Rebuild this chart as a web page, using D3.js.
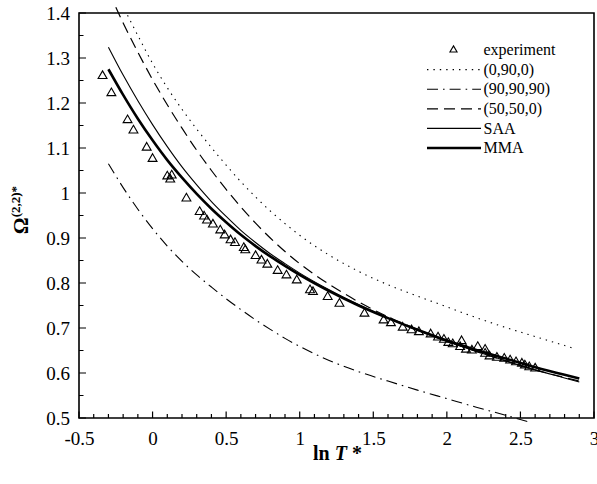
<!DOCTYPE html>
<html>
<head>
<meta charset="utf-8">
<script src="https://cdn.jsdelivr.net/npm/d3@7"></script>
<style>
body { margin: 0; background: #fff; }
svg { display: block; font-family: "Liberation Serif", "Times New Roman", serif; }
</style>
</head>
<body>
<div id="chart"></div>
<script>
// datos:
const expX = [-0.34, -0.28, -0.17, -0.13, -0.04, 0.0, 0.10, 0.13, 0.12, 0.23, 0.32, 0.35, 0.37, 0.41, 0.46, 0.49,
    0.53, 0.56, 0.62, 0.63, 0.70, 0.74, 0.78, 0.85, 0.91, 0.98, 1.07, 1.09, 1.19, 1.27, 1.44, 1.57, 1.62, 1.70,
    1.76, 1.81, 1.89, 1.94, 1.98, 2.01, 2.04, 2.10, 2.09, 2.13, 2.17, 2.21, 2.26, 2.26, 2.29, 2.34, 2.39, 2.43,
    2.47, 2.51, 2.53, 2.56, 2.60]
const expY = [1.260, 1.222, 1.162, 1.139, 1.101, 1.076, 1.037, 1.039, 1.030, 0.988, 0.958, 0.948, 0.939, 0.930, 0.917, 0.906,
    0.895, 0.889, 0.878, 0.873, 0.860, 0.850, 0.841, 0.827, 0.817, 0.806, 0.784, 0.780, 0.769, 0.754, 0.732, 0.717, 0.711, 0.701,
    0.695, 0.691, 0.686, 0.679, 0.674, 0.667, 0.664, 0.671, 0.658, 0.652, 0.650, 0.658, 0.652, 0.643, 0.637, 0.634, 0.632, 0.628,
    0.624, 0.621, 0.617, 0.613, 0.610]

const dotX = [-0.17, -0.1, 0.0, 0.1, 0.2, 0.3, 0.4, 0.5, 0.6, 0.7, 0.8, 0.9, 1.0, 1.2, 1.4, 1.6, 1.8, 2.0, 2.2, 2.4, 2.6, 2.8, 2.87]
const dotY = [1.395, 1.350, 1.288, 1.234, 1.186, 1.142, 1.101, 1.062, 1.025, 0.991, 0.960, 0.932, 0.906, 0.862, 0.826, 0.796,
    0.771, 0.747, 0.723, 0.701, 0.681, 0.661, 0.654]

const dashDotX = [-0.3, -0.2, -0.1, 0.0, 0.1, 0.2, 0.3, 0.4, 0.5, 0.6, 0.7, 0.8, 0.9, 1.0, 1.2, 1.4, 1.6, 1.8, 2.0, 2.2, 2.4, 2.55]
const dashDotY = [1.065, 1.012, 0.964, 0.921, 0.882, 0.848, 0.818, 0.791, 0.765, 0.741, 0.718, 0.697, 0.677, 0.659, 0.628,
    0.603, 0.582, 0.562, 0.543, 0.524, 0.506, 0.492]

const dashX = [-0.25, -0.2, -0.1, 0.0, 0.1, 0.2, 0.3, 0.4, 0.5, 0.6, 0.7, 0.8, 0.9, 1.0, 1.1, 1.2, 1.3, 1.4, 1.6, 1.8, 2.0,
    2.2, 2.4, 2.6, 2.8, 2.9]
const dashY = [1.413, 1.378, 1.313, 1.252, 1.196, 1.144, 1.095, 1.050, 1.008, 0.969, 0.933, 0.900, 0.870, 0.843, 0.819, 0.797,
    0.777, 0.758, 0.725, 0.697, 0.671, 0.648, 0.627, 0.607, 0.590, 0.582]

const saaX = [-0.3, -0.2, -0.1, 0.0, 0.1, 0.2, 0.3, 0.4, 0.5, 0.6, 0.7, 0.8, 0.9, 1.0, 1.2, 1.4, 1.6, 1.8, 2.0, 2.2, 2.4, 2.6, 2.8, 2.9]
const saaY = [1.324, 1.262, 1.205, 1.152, 1.103, 1.058, 1.018, 0.981, 0.948, 0.917, 0.890, 0.865, 0.843, 0.822, 0.785, 0.752,
    0.722, 0.695, 0.670, 0.648, 0.627, 0.607, 0.589, 0.580]

const mmaX = [-0.3, -0.2, -0.1, 0.0, 0.1, 0.2, 0.3, 0.4, 0.5, 0.6, 0.7, 0.8, 0.9, 1.0, 1.2, 1.4, 1.6, 1.8, 2.0, 2.2, 2.4, 2.6, 2.8, 2.9]
const mmaY = [1.275, 1.218, 1.165, 1.117, 1.073, 1.034, 0.998, 0.965, 0.935, 0.907, 0.882, 0.859, 0.838, 0.818, 0.782, 0.750,
    0.722, 0.696, 0.672, 0.651, 0.632, 0.613, 0.596, 0.588]

const legendLabels = ["experiment", "(0,90,0)", "(90,90,90)", "(50,50,0)", "SAA", "MMA"]

const xTicks = [-0.5, 0, 0.5, 1, 1.5, 2, 2.5, 3]
const xTickLabels = ["-0.5", "0", "0.5", "1", "1.5", "2", "2.5", "3"]
const yTicks = [0.5, 0.6, 0.7, 0.8, 0.9, 1, 1.1, 1.2, 1.3, 1.4]
const yTickLabels = ["0.5", "0.6", "0.7", "0.8", "0.9", "1", "1.1", "1.2", "1.3", "1.4"]

// Constantes:
const width = 597
const height = 484
const margins = {
    top: 13,
    left: 79,
    right: 3,
    bottom: 66
}
const eWidth = width - margins.left - margins.right
const eHeight = height - margins.top - margins.bottom

// grupos:
let svg = d3.select('div#chart').append('svg').attr('width', width).attr('height', height)
let axisGroup = svg.append('g').attr('id', 'axisGroup')
let elementGroup = svg.append('g').attr('id', 'elementGroup')
    .attr('transform', `translate(${margins.left}, ${margins.top})`)

// escalas:
let x = d3.scaleLinear().range([0, eWidth]).domain([-0.5, 3])
let y = d3.scaleLinear().range([eHeight, 0]).domain([0.5, 1.4])

// ejes: solo etiquetas con d3.axis, ticks dibujados aparte hacia dentro
let xAxis = d3.axisBottom(x).tickValues(xTicks).tickSize(0).tickPadding(14)
    .tickFormat((d, i) => xTickLabels[i])
let yAxis = d3.axisLeft(y).tickValues(yTicks).tickSize(0).tickPadding(9)
    .tickFormat((d, i) => yTickLabels[i])

axisGroup.append('g').attr('transform', `translate(${margins.left}, ${margins.top + eHeight})`).call(xAxis)
axisGroup.append('g').attr('transform', `translate(${margins.left}, ${margins.top})`).call(yAxis)

axisGroup.selectAll('.domain').remove()
axisGroup.selectAll('.tick line').remove()
axisGroup.selectAll('.tick text').attr('fill', '#000').attr('font-size', 19)
    .attr('font-family', '"Liberation Serif", "Times New Roman", serif')

let xMinor = d3.range(-0.5, 3.001, 0.1)
let yMinor = d3.range(0.5, 1.401, 0.05)
let tickPath = ''
xMinor.forEach((v, i) => {
    let len = i % 5 == 0 ? 6.5 : 4
    tickPath += `M${x(v)},${eHeight}V${eHeight - len}`
})
yMinor.forEach((v, i) => {
    let len = i % 2 == 0 ? 7 : 4.5
    tickPath += `M0,${y(v)}H${len}`
})
elementGroup.append('path').attr('d', tickPath)
    .attr('fill', 'none').attr('stroke', '#000').attr('stroke-width', 1.2)

// marco:
elementGroup.append('path')
    .attr('d', `M0,0H${eWidth}V${eHeight}H0Z`)
    .attr('fill', 'none').attr('stroke', '#000').attr('stroke-width', 1.6)

// series:
const styles = {
    "(0,90,0)": { dash: "1.4,5", w: 1.1 },
    "(90,90,90)": { dash: "11,5,1.6,5", w: 1.1 },
    "(50,50,0)": { dash: "11,6", w: 1.2 },
    "SAA": { dash: null, w: 1.1 },
    "MMA": { dash: null, w: 2.6 }
}
let series = [
    { name: "(0,90,0)", pts: dotX.map((v, i) => [v, dotY[i]]) },
    { name: "(90,90,90)", pts: dashDotX.map((v, i) => [v, dashDotY[i]]) },
    { name: "(50,50,0)", pts: dashX.map((v, i) => [v, dashY[i]]) },
    { name: "SAA", pts: saaX.map((v, i) => [v, saaY[i]]) },
    { name: "MMA", pts: mmaX.map((v, i) => [v, mmaY[i]]) }
]
let experiment = expX.map((v, i) => [v, expY[i]])

let line = d3.line().x(d => x(d[0])).y(d => y(d[1])).curve(d3.curveMonotoneX)

elementGroup.selectAll('path.serie').data(series).enter()
    .append('path')
    .attr('class', 'serie')
    .attr('d', d => line(d.pts))
    .attr('fill', 'none')
    .attr('stroke', '#000')
    .attr('stroke-width', d => styles[d.name].w)
    .attr('stroke-dasharray', d => styles[d.name].dash)

let tri = d3.symbol(d3.symbolTriangle, 34)
elementGroup.selectAll('path.exp').data(experiment).enter()
    .append('path')
    .attr('class', 'exp')
    .attr('d', tri)
    .attr('transform', d => `translate(${x(d[0])}, ${y(d[1])})`)
    .attr('fill', 'none')
    .attr('stroke', '#000')
    .attr('stroke-width', 1.1)

// leyenda:
let legend = svg.append('g').attr('id', 'legend')
let rows = legend.selectAll('g').data(legendLabels).enter()
    .append('g')
    .attr('transform', (d, i) => `translate(0, ${50 + i * 19.6})`)

rows.append('text')
    .attr('x', 483.5).attr('y', 0).attr('dy', '0.32em')
    .attr('font-size', 16)
    .text(d => d)

rows.filter((d, i) => i > 0).append('line')
    .attr('x1', 427).attr('x2', 481).attr('y1', 0).attr('y2', 0)
    .attr('stroke', '#000')
    .attr('stroke-width', d => styles[d].w)
    .attr('stroke-dasharray', d => styles[d].dash)

rows.filter((d, i) => i == 0).append('path')
    .attr('d', d3.symbol(d3.symbolTriangle, 22))
    .attr('transform', 'translate(453.5, 0)')
    .attr('fill', 'none').attr('stroke', '#000').attr('stroke-width', 1.1)

// titulos de ejes:
let xTitle = svg.append('text')
    .attr('x', 313).attr('y', 460)
    .attr('font-size', 20).attr('font-weight', 'bold')
xTitle.append('tspan').text('ln ')
xTitle.append('tspan').attr('font-style', 'italic').text('T')
xTitle.append('tspan').text(' *')

let yTitle = svg.append('text')
    .attr('transform', 'translate(28, 210) rotate(-90)')
    .attr('text-anchor', 'middle')
    .attr('font-size', 21).attr('font-weight', 'bold')
yTitle.append('tspan').text('Ω')
yTitle.append('tspan').attr('font-size', 13).attr('dy', -8).text('(2,2)*')
</script>
</body>
</html>
